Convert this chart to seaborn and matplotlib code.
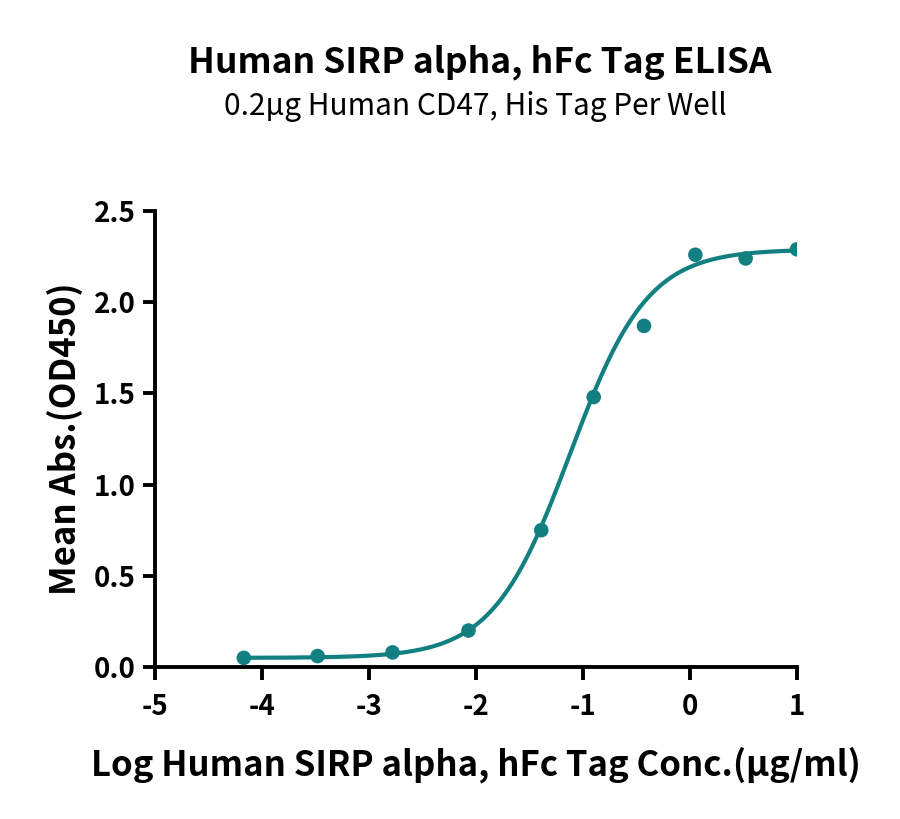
import numpy as np
import pandas as pd
import matplotlib
matplotlib.use("Agg")
import matplotlib.pyplot as plt
import seaborn as sns

# measured points (log conc, mean OD450)
log_conc = [-4.17, -3.48, -2.78, -2.07, -1.39, -0.90, -0.43, 0.05, 0.52, 1.00]
mean_abs = [0.05, 0.06, 0.08, 0.20, 0.75, 1.48, 1.87, 2.26, 2.24, 2.29]

# 4PL fit parameters
fit_bottom = 0.05
fit_top = 2.29
fit_logec50 = -1.12
fit_hill = 1.2

xticks = [-5, -4, -3, -2, -1, 0, 1]
yticks = [0.0, 0.5, 1.0, 1.5, 2.0, 2.5]

teal = "#127f80"

sns.set_style("ticks")
plt.rcParams['font.family'] = ['Noto Sans CJK SC', 'DejaVu Sans']
plt.rcParams['text.color'] = 'black'
plt.rcParams['axes.labelcolor'] = 'black'
plt.rcParams['xtick.color'] = 'black'
plt.rcParams['ytick.color'] = 'black'
plt.rcParams['axes.edgecolor'] = 'black'

pts = pd.DataFrame({'x': log_conc, 'y': mean_abs})
xs = np.linspace(min(log_conc), max(log_conc), 300)
ys = fit_bottom + (fit_top - fit_bottom) / (1 + 10 ** ((fit_logec50 - xs) * fit_hill))
curve = pd.DataFrame({'x': xs, 'y': ys})

fig = plt.figure(figsize=(9, 8.19), dpi=100)
ax = fig.add_axes([155/900, 1 - 667/819, 642/900, 456/819])

sns.lineplot(data=curve, x='x', y='y', ax=ax, color=teal, linewidth=3)
sns.scatterplot(data=pts, x='x', y='y', ax=ax, color=teal, s=110, edgecolor='none', zorder=3)

ax.set_xlim(-5, 1)
ax.set_ylim(0, 2.5)
ax.set_xticks(xticks)
ax.set_yticks(yticks)
ax.set_xticklabels([str(t) for t in xticks], fontsize=20, fontweight='heavy')
ax.set_yticklabels([f"{t:.1f}" for t in yticks], fontsize=20, fontweight='heavy')
ax.tick_params(axis='both', direction='out', length=9, width=2.8)
ax.tick_params(axis='x', pad=10)
ax.tick_params(axis='y', pad=5)
for s in ['top', 'right']:
    ax.spines[s].set_visible(False)
for s in ['left', 'bottom']:
    ax.spines[s].set_linewidth(2.8)
ax.spines['bottom'].set_bounds(-5, 1)
ax.spines['left'].set_bounds(0, 2.5)

ax.set_xlabel("Log Human SIRP alpha, hFc Tag Conc.(µg/ml)", fontsize=25, fontweight='heavy', labelpad=18)
ax.set_ylabel("Mean Abs.(OD450)", fontsize=25, fontweight='heavy', labelpad=8)

fig.text(0.533, 1 - 62/819, "Human SIRP alpha, hFc Tag ELISA", ha='center', va='center',
         fontsize=25.5, fontweight='heavy')
fig.text(0.528, 1 - 106/819, "0.2µg Human CD47, His Tag Per Well", ha='center', va='center',
         fontsize=21.5)

fig.savefig("out.png", dpi=100, facecolor='white')
